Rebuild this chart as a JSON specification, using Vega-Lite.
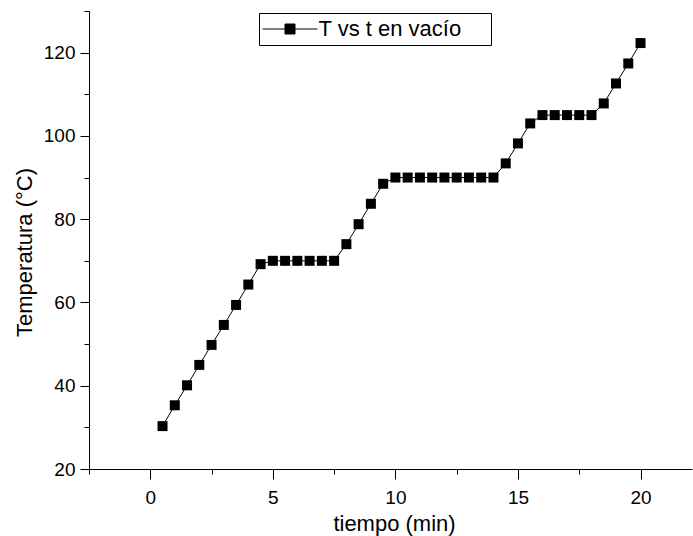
{
  "$schema": "https://vega.github.io/schema/vega-lite/v6.json",
  "autosize": {"type": "none"},
  "padding": {"left": 89, "top": 11, "right": 1, "bottom": 67},
  "width": 603,
  "height": 458,
  "background": "white",
  "config": {
    "font": "Liberation Sans",
    "view": {"stroke": null},
    "axis": {
      "domainColor": "black",
      "domainWidth": 1,
      "tickColor": "black",
      "tickWidth": 1,
      "labelColor": "black",
      "titleColor": "black",
      "grid": false,
      "labelFont": "Liberation Sans",
      "titleFont": "Liberation Sans",
      "labelFontSize": 19,
      "titleFontSize": 22,
      "titleFontWeight": "normal"
    }
  },
  "data": {
    "values": [
      {"t": 0.5, "T": 30.3, "serie": "T vs t en vacío"},
      {"t": 1.0, "T": 35.3, "serie": "T vs t en vacío"},
      {"t": 1.5, "T": 40.1, "serie": "T vs t en vacío"},
      {"t": 2.0, "T": 45.0, "serie": "T vs t en vacío"},
      {"t": 2.5, "T": 49.8, "serie": "T vs t en vacío"},
      {"t": 3.0, "T": 54.6, "serie": "T vs t en vacío"},
      {"t": 3.5, "T": 59.4, "serie": "T vs t en vacío"},
      {"t": 4.0, "T": 64.3, "serie": "T vs t en vacío"},
      {"t": 4.5, "T": 69.2, "serie": "T vs t en vacío"},
      {"t": 5.0, "T": 70.0, "serie": "T vs t en vacío"},
      {"t": 5.5, "T": 70.0, "serie": "T vs t en vacío"},
      {"t": 6.0, "T": 70.0, "serie": "T vs t en vacío"},
      {"t": 6.5, "T": 70.0, "serie": "T vs t en vacío"},
      {"t": 7.0, "T": 70.0, "serie": "T vs t en vacío"},
      {"t": 7.5, "T": 70.0, "serie": "T vs t en vacío"},
      {"t": 8.0, "T": 74.0, "serie": "T vs t en vacío"},
      {"t": 8.5, "T": 78.8, "serie": "T vs t en vacío"},
      {"t": 9.0, "T": 83.7, "serie": "T vs t en vacío"},
      {"t": 9.5, "T": 88.5, "serie": "T vs t en vacío"},
      {"t": 10.0, "T": 90.0, "serie": "T vs t en vacío"},
      {"t": 10.5, "T": 90.0, "serie": "T vs t en vacío"},
      {"t": 11.0, "T": 90.0, "serie": "T vs t en vacío"},
      {"t": 11.5, "T": 90.0, "serie": "T vs t en vacío"},
      {"t": 12.0, "T": 90.0, "serie": "T vs t en vacío"},
      {"t": 12.5, "T": 90.0, "serie": "T vs t en vacío"},
      {"t": 13.0, "T": 90.0, "serie": "T vs t en vacío"},
      {"t": 13.5, "T": 90.0, "serie": "T vs t en vacío"},
      {"t": 14.0, "T": 90.0, "serie": "T vs t en vacío"},
      {"t": 14.5, "T": 93.4, "serie": "T vs t en vacío"},
      {"t": 15.0, "T": 98.2, "serie": "T vs t en vacío"},
      {"t": 15.5, "T": 103.0, "serie": "T vs t en vacío"},
      {"t": 16.0, "T": 105.0, "serie": "T vs t en vacío"},
      {"t": 16.5, "T": 105.0, "serie": "T vs t en vacío"},
      {"t": 17.0, "T": 105.0, "serie": "T vs t en vacío"},
      {"t": 17.5, "T": 105.0, "serie": "T vs t en vacío"},
      {"t": 18.0, "T": 105.0, "serie": "T vs t en vacío"},
      {"t": 18.5, "T": 107.8, "serie": "T vs t en vacío"},
      {"t": 19.0, "T": 112.6, "serie": "T vs t en vacío"},
      {"t": 19.5, "T": 117.4, "serie": "T vs t en vacío"},
      {"t": 20.0, "T": 122.3, "serie": "T vs t en vacío"}
    ]
  },
  "layer": [
    {
      "mark": {"type": "point", "opacity": 0},
      "encoding": {
        "x": {
          "field": "t", "type": "quantitative",
          "scale": {"domain": [-2.5, 22.1], "nice": false, "zero": false},
          "axis": {"orient": "bottom", "values": [-2.5, 2.5, 7.5, 12.5, 17.5], "labels": false, "domain": false, "tickSize": 5, "title": null}
        },
        "y": {
          "field": "T", "type": "quantitative",
          "scale": {"domain": [20, 130], "nice": false, "zero": false},
          "axis": {"orient": "left", "values": [30, 50, 70, 90, 110, 130], "labels": false, "domain": false, "tickSize": 5, "title": null}
        }
      }
    },
    {
      "mark": {"type": "line", "color": "black", "strokeWidth": 1},
      "encoding": {
        "x": {
          "field": "t", "type": "quantitative",
          "axis": {"orient": "bottom", "values": [0, 5, 10, 15, 20], "tickSize": 10, "labelPadding": 9, "title": "tiempo (min)", "titlePadding": 6, "titleX": 305}
        },
        "y": {
          "field": "T", "type": "quantitative",
          "axis": {"orient": "left", "values": [20, 40, 60, 80, 100, 120], "tickSize": 9, "labelPadding": 5, "title": "Temperatura (°C)", "titlePadding": 7, "titleY": 241}
        }
      }
    },
    {
      "mark": {"type": "point", "shape": "square", "filled": true, "size": 100, "opacity": 1},
      "encoding": {
        "x": {"field": "t", "type": "quantitative", "axis": null},
        "y": {"field": "T", "type": "quantitative", "axis": null},
        "color": {
          "field": "serie", "type": "nominal",
          "scale": {"range": ["black"]},
          "legend": {
            "title": "—",
            "titleOrient": "right",
            "titleColor": "white",
            "titleFontSize": 22,
            "titlePadding": 2,
            "orient": "none",
            "legendX": 170,
            "legendY": 2,
            "fillColor": "white",
            "strokeColor": "black",
            "padding": 5,
            "labelFontSize": 22,
            "labelFont": "Liberation Sans",
            "labelColor": "black",
            "labelLimit": 400,
            "symbolSize": 100,
            "symbolType": "M-1,0H10M3.5,-1H5.5V1H3.5Z",
            "symbolStrokeColor": "black",
            "symbolStrokeWidth": 1,
            "symbolFillColor": "black",
            "symbolOffset": -7.5,
            "labelOffset": 40,
            "encode": {
              "symbols": {
                "enter": {"fill": {"value": "black"}, "stroke": {"value": "black"}, "strokeWidth": {"value": 1}},
                "update": {"fill": {"value": "black"}, "stroke": {"value": "black"}, "strokeWidth": {"value": 1}, "opacity": {"value": 1}}
              }
            }
          }
        }
      }
    }
  ],
  "resolve": {"axis": {"x": "independent", "y": "independent"}}
}
